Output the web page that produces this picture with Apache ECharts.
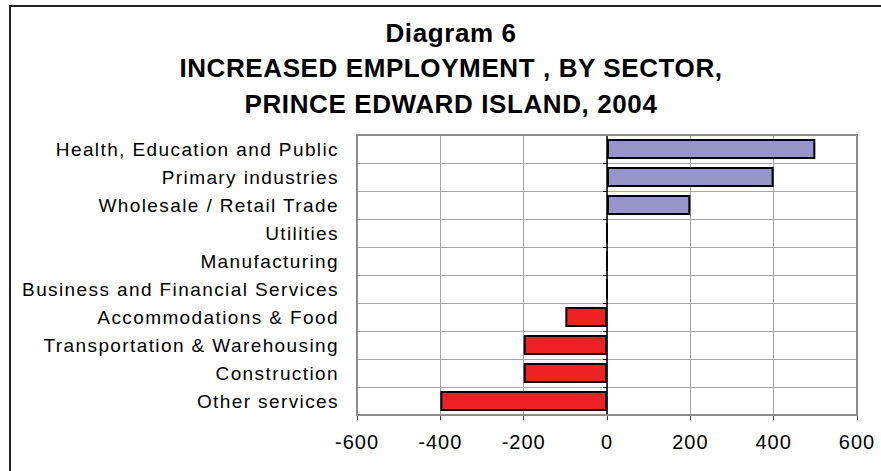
<!DOCTYPE html>
<html>
<head>
<meta charset="utf-8">
<script src="https://cdn.jsdelivr.net/npm/echarts@6/dist/echarts.min.js"></script>
<style>
html,body{margin:0;padding:0;background:#fff;}
#main{width:881px;height:471px;}
</style>
</head>
<body>
<div id="main"></div>
<script>
const categories = [
  "Health, Education and Public",
  "Primary industries",
  "Wholesale / Retail Trade",
  "Utilities",
  "Manufacturing",
  "Business and Financial Services",
  "Accommodations & Food",
  "Transportation & Warehousing",
  "Construction",
  "Other services"
];
const values = [500, 400, 200, 0, 0, 0, -100, -200, -200, -400];
const titleLines = ["Diagram 6", "INCREASED EMPLOYMENT , BY SECTOR,", "PRINCE EDWARD ISLAND, 2004"];
const xTicks = [-600, -400, -200, 0, 200, 400, 600];

const chart = echarts.init(document.getElementById('main'), null, {renderer: 'svg'});
const option = {
  animation: false,
  backgroundColor: '#fff',
  title: {
    text: titleLines.join('\n'),
    left: 446,
    top: 10,
    textAlign: 'center',
    textStyle: {
      fontFamily: 'Liberation Sans, Arial, sans-serif',
      fontWeight: 'bold',
      fontSize: 26,
      lineHeight: 35.5,
      color: '#000'
    }
  },
  grid: {left: 357, right: 24, top: 135, bottom: 56, containLabel: false},
  xAxis: {
    type: 'value',
    min: xTicks[0],
    max: xTicks[xTicks.length - 1],
    interval: 200,
    axisLine: {show: true, onZero: false, lineStyle: {color: '#404040', width: 2}},
    axisTick: {show: true, length: 5, lineStyle: {color: '#404040', width: 1}},
    axisLabel: {
      margin: 17,
      color: '#000',
      fontFamily: 'Liberation Sans, Arial, sans-serif',
      fontSize: 20
    },
    splitLine: {show: true, lineStyle: {color: '#a6a6a6', width: 1}}
  },
  yAxis: [{
    type: 'category',
    data: categories,
    inverse: true,
    position: 'left',
    axisLine: {show: false, onZero: false},
    axisTick: {show: false},
    axisLabel: {
      margin: 18,
      color: '#000',
      fontFamily: 'Liberation Sans, Arial, sans-serif',
      fontSize: 19
    },
    splitLine: {show: true, lineStyle: {color: '#a6a6a6', width: 1}}
  }, {
    type: 'category',
    data: categories,
    inverse: true,
    position: 'left',
    axisLine: {show: true, onZero: true, lineStyle: {color: '#000', width: 1.5}},
    axisTick: {show: true, length: 4, lineStyle: {color: '#000', width: 1}},
    axisLabel: {show: false},
    splitLine: {show: false}
  }],
  series: [{
    type: 'bar',
    yAxisIndex: 0,
    data: values,
    barWidth: 20,
    itemStyle: {
      color: function (p) { return p.value >= 0 ? '#9595c8' : '#ee2224'; },
      borderColor: '#000',
      borderWidth: 2
    },
    z: 3
  }]
};
chart.setOption(option);

function addBorder() {
  const r = chart.getModel().getComponent('grid').coordinateSystem.getRect();
  chart.setOption({graphic: [{
    type: 'rect',
    shape: {x: 10, y: 6, width: 900, height: 500},
    style: {fill: 'none', stroke: '#222', lineWidth: 2},
    silent: true
  }, {
    type: 'rect',
    shape: {x: r.x, y: r.y, width: r.width, height: r.height},
    style: {fill: 'none', stroke: '#8c8c8c', lineWidth: 2},
    silent: true,
    z: 1
  }]});
}
addBorder();

function spacing() {
  document.querySelectorAll('#main text').forEach(function (t) {
    const cs = getComputedStyle(t);
    const fs = parseFloat(cs.fontSize);
    const bold = (cs.fontWeight === 'bold' || parseInt(cs.fontWeight) >= 600);
    if (bold) t.style.letterSpacing = '0.6px';
    else if (fs >= 19.5) t.style.letterSpacing = '1px';
    else t.style.letterSpacing = '1.4px';
  });
}
spacing();
</script>
</body>
</html>
